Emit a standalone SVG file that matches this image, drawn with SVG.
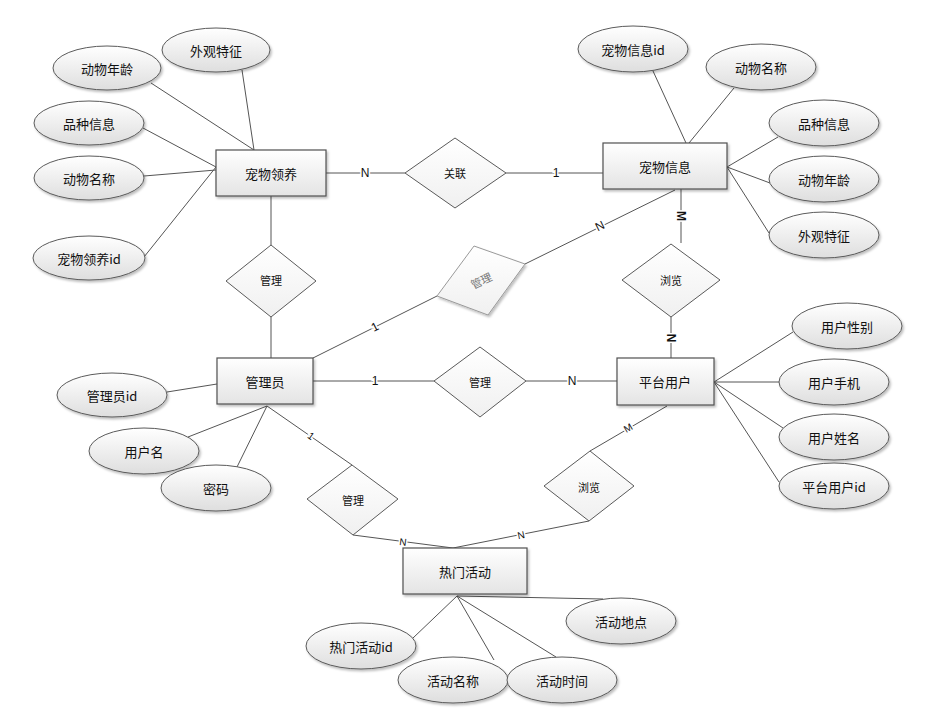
<svg xmlns="http://www.w3.org/2000/svg" width="935" height="709" viewBox="0 0 935 709">
<defs>
<linearGradient id="gE" x1="0" y1="0" x2="0" y2="1"><stop offset="0" stop-color="#ffffff"/><stop offset="1" stop-color="#dedede"/></linearGradient>
<linearGradient id="gR" x1="0" y1="0" x2="0" y2="1"><stop offset="0" stop-color="#ffffff"/><stop offset="1" stop-color="#e4e4e4"/></linearGradient>
<linearGradient id="gD" x1="0" y1="0" x2="0" y2="1"><stop offset="0" stop-color="#ffffff"/><stop offset="1" stop-color="#f0f0f0"/></linearGradient>
<filter id="sh" x="-20%" y="-20%" width="140%" height="150%"><feDropShadow dx="1.5" dy="2" stdDeviation="1.2" flood-color="#000" flood-opacity="0.25"/></filter>
<style>
.e{fill:url(#gE);stroke:#5a5a5a;stroke-width:1;filter:url(#sh)}
.r{fill:url(#gR);stroke:#505050;stroke-width:1.2;filter:url(#sh)}
.d{fill:url(#gD);stroke:#5a5a5a;stroke-width:1}
.dl{fill:url(#gD);stroke:#9a9a9a;stroke-width:1;filter:url(#sh)}
.t{font-family:"Noto Sans CJK SC","Liberation Sans",sans-serif;font-size:13px;fill:#111;text-anchor:middle;dominant-baseline:central}
.ts{font-family:"Noto Sans CJK SC","Liberation Sans",sans-serif;font-size:11px;fill:#111;text-anchor:middle;dominant-baseline:central}
.c line{stroke:#555;stroke-width:1}
.l{font-family:"Liberation Sans",sans-serif;font-size:12px;fill:#111;text-anchor:middle;dominant-baseline:central;stroke:#fff;stroke-width:3;paint-order:stroke}
.lb{font-family:"Liberation Sans",sans-serif;font-size:12px;font-weight:bold;fill:#111;text-anchor:middle;dominant-baseline:central;stroke:#fff;stroke-width:3;paint-order:stroke}
.lm{font-family:"Liberation Sans",sans-serif;font-size:10px;fill:#111;text-anchor:middle;dominant-baseline:central;stroke:#fff;stroke-width:3;paint-order:stroke}
</style>
</defs>
<rect width="935" height="709" fill="#fff"/>
<g id="connectors" class="c">
<line x1="242" y1="70" x2="254" y2="150"/>
<line x1="151" y1="83" x2="254" y2="150"/>
<line x1="143" y1="128" x2="216" y2="167"/>
<line x1="144" y1="176" x2="216" y2="170"/>
<line x1="144" y1="257" x2="216" y2="167"/>
<line x1="326" y1="173" x2="405" y2="173"/>
<line x1="506" y1="173" x2="603" y2="173"/>
<line x1="653" y1="71" x2="686" y2="143"/>
<line x1="734" y1="88" x2="689" y2="143"/>
<line x1="778" y1="137" x2="727" y2="167"/>
<line x1="770" y1="183" x2="727" y2="167"/>
<line x1="769" y1="233" x2="727" y2="167"/>
<line x1="681" y1="189" x2="681" y2="243"/>
<line x1="671" y1="317" x2="671" y2="358"/>
<line x1="675" y1="190" x2="525" y2="264"/>
<line x1="437" y1="296" x2="313" y2="358"/>
<line x1="271" y1="196" x2="271" y2="245"/>
<line x1="271" y1="317" x2="271" y2="358"/>
<line x1="313" y1="381" x2="434" y2="381"/>
<line x1="526" y1="381" x2="617" y2="381"/>
<line x1="167" y1="392" x2="217" y2="384"/>
<line x1="188" y1="437" x2="267" y2="406"/>
<line x1="237" y1="467" x2="267" y2="406"/>
<line x1="267" y1="406" x2="352" y2="465"/>
<line x1="353" y1="535" x2="453" y2="548"/>
<line x1="589" y1="521" x2="453" y2="548"/>
<line x1="590" y1="451" x2="667" y2="406"/>
<line x1="714" y1="382" x2="793" y2="332"/>
<line x1="714" y1="382" x2="780" y2="382"/>
<line x1="714" y1="382" x2="783" y2="428"/>
<line x1="714" y1="382" x2="779" y2="482"/>
<line x1="457" y1="596" x2="413" y2="638"/>
<line x1="457" y1="596" x2="494" y2="660"/>
<line x1="457" y1="596" x2="556" y2="657"/>
<line x1="457" y1="596" x2="603" y2="599"/>
<text class="l" x="365" y="173">N</text>
<text class="l" x="556" y="173">1</text>
<text class="l" x="600" y="226" transform="rotate(-26 600 226)">N</text>
<text class="l" x="375" y="327" transform="rotate(-27 375 327)">1</text>
<text class="lb" x="681" y="216" transform="rotate(90 681 216)">M</text>
<text class="lb" x="671" y="338" transform="rotate(90 671 338)">N</text>
<text class="l" x="375" y="381">1</text>
<text class="l" x="572" y="381">N</text>
<text class="lm" x="311" y="436" transform="rotate(35 311 436)">1</text>
<text class="lm" x="403" y="542" transform="rotate(7 403 542)">N</text>
<text class="lm" x="521" y="535" transform="rotate(-12 521 535)">N</text>
<text class="lm" x="628" y="428" transform="rotate(-30 628 428)">M</text>
</g>
<g id="e-adopt"><rect class="r" x="216" y="150" width="110" height="46"/><text class="t" x="271" y="173">宠物领养</text></g>
<g id="e-petinfo"><rect class="r" x="603" y="143" width="124" height="46"/><text class="t" x="665" y="166">宠物信息</text></g>
<g id="e-admin"><rect class="r" x="217" y="358" width="96" height="46"/><text class="t" x="265" y="381">管理员</text></g>
<g id="e-user"><rect class="r" x="617" y="358" width="97" height="47"/><text class="t" x="665" y="381">平台用户</text></g>
<g id="e-activity"><rect class="r" x="403" y="548" width="124" height="46"/><text class="t" x="465" y="571">热门活动</text></g>
<g id="r-guanlian"><polygon class="d" points="455,138 506,173 455,208 405,173"/><text class="ts" x="455" y="173">关联</text></g>
<g id="r-manage1"><polygon class="d" points="271,245 316,281 271,317 226,281"/><text class="ts" x="271" y="280">管理</text></g>
<g id="r-manage2"><polygon class="dl" points="474,246 525,264 488,315 437,296"/><text class="ts" x="481" y="280" fill="#777" style="fill:#777" transform="rotate(-25 481 280)">管理</text></g>
<g id="r-browse1"><polygon class="d" points="671,244 720,280 671,317 622,280"/><text class="ts" x="671" y="280">浏览</text></g>
<g id="r-manage3"><polygon class="d" points="480,347 526,381 480,417 434,381"/><text class="ts" x="480" y="382">管理</text></g>
<g id="r-manage4"><polygon class="d" points="352,465 398,499 353,535 307,499"/><text class="ts" x="353" y="500">管理</text></g>
<g id="r-browse2"><polygon class="d" points="590,451 634,486 589,521 544,486"/><text class="ts" x="589" y="487">浏览</text></g>
<g id="a-adopt-look"><ellipse class="e" cx="216" cy="50" rx="54" ry="22"/><text class="t" x="216" y="50">外观特征</text></g>
<g id="a-adopt-age"><ellipse class="e" cx="107" cy="68" rx="54" ry="22"/><text class="t" x="107" y="68">动物年龄</text></g>
<g id="a-adopt-breed"><ellipse class="e" cx="89" cy="123" rx="55" ry="22"/><text class="t" x="89" y="123">品种信息</text></g>
<g id="a-adopt-name"><ellipse class="e" cx="89" cy="178" rx="55" ry="22"/><text class="t" x="89" y="178">动物名称</text></g>
<g id="a-adopt-id"><ellipse class="e" cx="89" cy="258" rx="56" ry="22"/><text class="t" x="89" y="258">宠物领养id</text></g>
<g id="a-pet-id"><ellipse class="e" cx="633" cy="49" rx="55" ry="23"/><text class="t" x="633" y="49">宠物信息id</text></g>
<g id="a-pet-name"><ellipse class="e" cx="761" cy="67" rx="55" ry="23"/><text class="t" x="761" y="67">动物名称</text></g>
<g id="a-pet-breed"><ellipse class="e" cx="824" cy="123" rx="55" ry="23"/><text class="t" x="824" y="123">品种信息</text></g>
<g id="a-pet-age"><ellipse class="e" cx="824" cy="179" rx="55" ry="23"/><text class="t" x="824" y="179">动物年龄</text></g>
<g id="a-pet-look"><ellipse class="e" cx="824" cy="235" rx="55" ry="23"/><text class="t" x="824" y="235">外观特征</text></g>
<g id="a-admin-id"><ellipse class="e" cx="112" cy="395" rx="55" ry="22"/><text class="t" x="112" y="395">管理员id</text></g>
<g id="a-admin-user"><ellipse class="e" cx="144" cy="451" rx="55" ry="23"/><text class="t" x="144" y="451">用户名</text></g>
<g id="a-admin-pwd"><ellipse class="e" cx="216" cy="488" rx="55" ry="23"/><text class="t" x="216" y="488">密码</text></g>
<g id="a-user-sex"><ellipse class="e" cx="847" cy="326" rx="55" ry="23"/><text class="t" x="847" y="326">用户性别</text></g>
<g id="a-user-phone"><ellipse class="e" cx="834" cy="382" rx="55" ry="23"/><text class="t" x="834" y="382">用户手机</text></g>
<g id="a-user-name"><ellipse class="e" cx="834" cy="437" rx="55" ry="23"/><text class="t" x="834" y="437">用户姓名</text></g>
<g id="a-user-id"><ellipse class="e" cx="834" cy="486" rx="55" ry="23"/><text class="t" x="834" y="486">平台用户id</text></g>
<g id="a-act-place"><ellipse class="e" cx="621" cy="621" rx="55" ry="23"/><text class="t" x="621" y="621">活动地点</text></g>
<g id="a-act-id"><ellipse class="e" cx="361" cy="646" rx="55" ry="23"/><text class="t" x="361" y="646">热门活动id</text></g>
<g id="a-act-name"><ellipse class="e" cx="453" cy="680" rx="55" ry="23"/><text class="t" x="453" y="680">活动名称</text></g>
<g id="a-act-time"><ellipse class="e" cx="562" cy="680" rx="55" ry="23"/><text class="t" x="562" y="680">活动时间</text></g>
</svg>
